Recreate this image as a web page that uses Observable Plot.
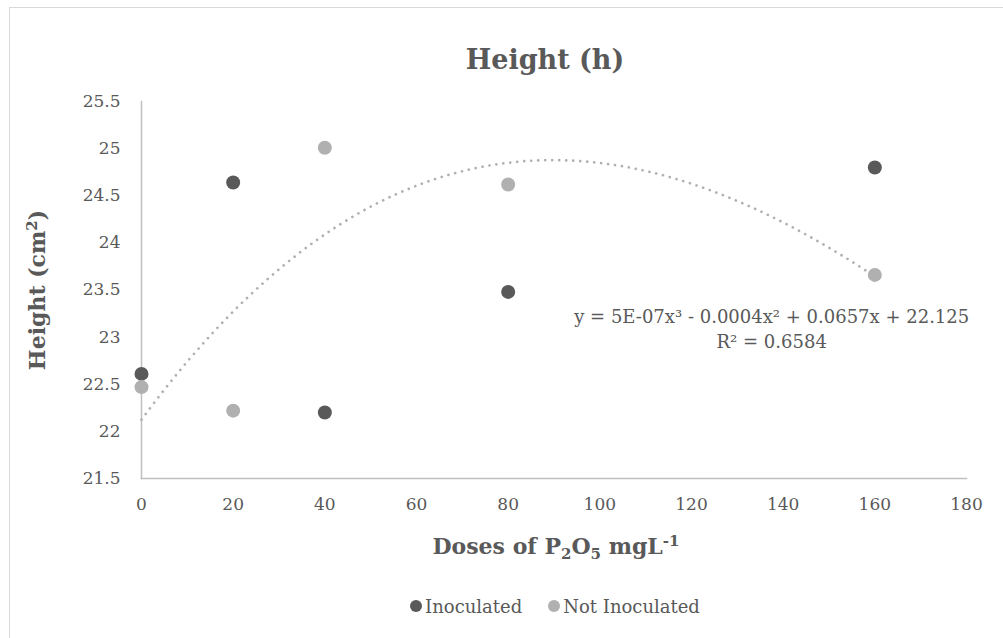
<!DOCTYPE html>
<html><head><meta charset="utf-8">
<script src="https://cdn.jsdelivr.net/npm/d3@7"></script>
<script src="https://cdn.jsdelivr.net/npm/@observablehq/plot@0.6"></script>
<style>
html,body{margin:0;padding:0;background:#fff;overflow:hidden;width:1003px;height:638px;}
#wrap{position:relative;width:1003px;height:638px;font-family:"DejaVu Serif",serif;color:#595959;overflow:hidden;}
#frame{position:absolute;left:9px;top:7px;width:1100px;height:700px;border:1.5px solid #d9d9d9;box-sizing:border-box;}
#title{position:absolute;left:0;width:1090px;top:44px;line-height:32px;text-align:center;font-weight:bold;font-size:27px;}
#chart{position:absolute;left:0;top:0;}
#legend{position:absolute;left:0;width:1110px;top:595px;height:22px;display:flex;justify-content:center;align-items:center;font-size:18px;}
.item{display:flex;align-items:center;margin:0 13px;}
.sw{width:12px;height:12px;border-radius:50%;margin-right:3px;}
</style></head>
<body><div id="wrap"><div id="frame"></div><div id="title">Height (h)</div><div id="chart"></div><div id="legend"></div></div>
<script>
const doses = [0, 20, 40, 80, 160];
const inoculated = [22.61, 24.64, 22.20, 23.48, 24.80];
const notInoculated = [22.47, 22.22, 25.01, 24.62, 23.66];
const xTicks = [0, 20, 40, 60, 80, 100, 120, 140, 160, 180];
const yTicks = [21.5, 22, 22.5, 23, 23.5, 24, 24.5, 25, 25.5];
const seriesNames = ["Inoculated", "Not Inoculated"];
const seriesColors = ["#595959", "#b0b0b0"];
const equationLines = ["y = 5E-07x³ - 0.0004x² + 0.0657x + 22.125", "R² = 0.6584"];
const equationAt = [{x: 137.5, y: 23.1}];

const points = [
  ...doses.map((d, i) => ({dose: d, value: inoculated[i], series: seriesNames[0]})),
  ...doses.map((d, i) => ({dose: d, value: notInoculated[i], series: seriesNames[1]}))
];

// cubic least-squares trendline (Not Inoculated series)
function polyfit(xs, ys, deg) {
  const n = deg + 1;
  const A = Array.from({length: n}, () => new Array(n + 1).fill(0));
  for (let k = 0; k < xs.length; k++) {
    for (let i = 0; i < n; i++) {
      for (let j = 0; j < n; j++) A[i][j] += Math.pow(xs[k], i + j);
      A[i][n] += ys[k] * Math.pow(xs[k], i);
    }
  }
  for (let i = 0; i < n; i++) {
    let p = i;
    for (let r = i + 1; r < n; r++) if (Math.abs(A[r][i]) > Math.abs(A[p][i])) p = r;
    [A[i], A[p]] = [A[p], A[i]];
    for (let r = 0; r < n; r++) {
      if (r === i) continue;
      const f = A[r][i] / A[i][i];
      for (let c = i; c <= n; c++) A[r][c] -= f * A[i][c];
    }
  }
  return A.map((row, i) => row[n] / row[i]);
}
const coef = polyfit(doses, notInoculated, 3);
const poly = x => coef.reduce((s, c, i) => s + c * Math.pow(x, i), 0);
const curve = d3.range(0, 160.001, 1).map(x => ({x, y: poly(x)}));

const chart = Plot.plot({
  width: 1003, height: 638,
  marginLeft: 141, marginRight: 37, marginTop: 101, marginBottom: 160,
  style: {fontFamily: "DejaVu Serif", fontSize: "17px", color: "#595959", background: "transparent"},
  x: {domain: [0, 180]},
  y: {domain: [21.5, 25.5]},
  color: {domain: seriesNames, range: seriesColors},
  marks: [
    Plot.frame({anchor: "left", stroke: "#bfbfbf", strokeWidth: 1.5}),
    Plot.frame({anchor: "bottom", stroke: "#bfbfbf", strokeWidth: 1.5}),
    Plot.axisX({ticks: xTicks, tickSize: 0, tickPadding: 19, label: null, fill: "#595959", fontSize: 17, tickFormat: d => String(d)}),
    Plot.axisY({ticks: yTicks, tickSize: 0, tickPadding: 21, label: null, fill: "#595959", fontSize: 17, tickFormat: d => String(d)}),
    Plot.line(curve, {x: "x", y: "y", stroke: seriesColors[1], strokeWidth: 2.7, strokeDasharray: "0.01 7", strokeLinecap: "round"}),
    Plot.dot(points, {x: "dose", y: "value", fill: "series", r: 7}),
    Plot.text(equationAt, {x: "x", y: "y", text: () => equationLines.join("\n"), lineHeight: 1.4, fill: "#595959", fontSize: 18, textAnchor: "middle"})
  ]
});
document.getElementById("chart").appendChild(chart);

const svg = d3.select(chart);
const xt = svg.append("text").attr("x", 556).attr("y", 554).attr("text-anchor", "middle")
  .attr("font-weight", "bold").attr("font-size", 22).attr("fill", "#595959").attr("font-family", "DejaVu Serif");
xt.append("tspan").text("Doses of P");
xt.append("tspan").attr("dy", 5).attr("font-size", 15).text("2");
xt.append("tspan").attr("dy", -5).text("O");
xt.append("tspan").attr("dy", 5).attr("font-size", 15).text("5");
xt.append("tspan").attr("dy", -5).text(" mgL");
xt.append("tspan").attr("dy", -8).attr("font-size", 15).text("-1");

const yt = svg.append("text").attr("transform", "translate(37,290) rotate(-90)").attr("text-anchor", "middle")
  .attr("dy", "0.35em").attr("font-weight", "bold").attr("font-size", 22).attr("fill", "#595959").attr("font-family", "DejaVu Serif");
yt.append("tspan").text("Height (cm");
yt.append("tspan").attr("dy", -8).attr("font-size", 15).text("2");
yt.append("tspan").attr("dy", 8).text(")");

const legend = d3.select("#legend");
seriesNames.forEach((name, i) => {
  const it = legend.append("div").attr("class", "item");
  it.append("div").attr("class", "sw").style("background", seriesColors[i]);
  it.append("span").text(name);
});
</script></body></html>
